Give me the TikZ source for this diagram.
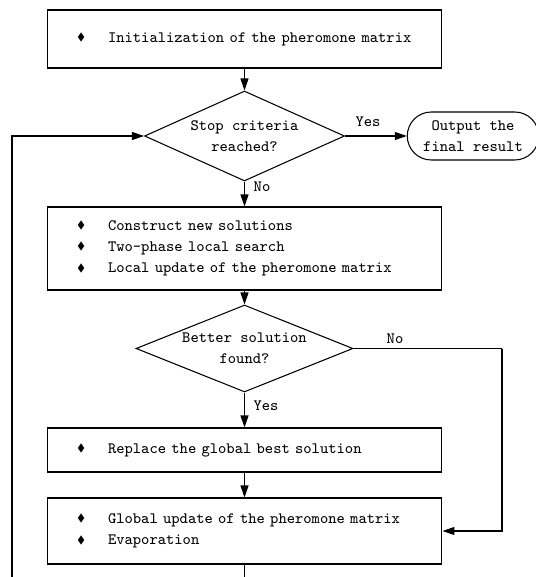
\documentclass[tikz,border=0pt]{standalone}
\usepackage{amssymb}
\usetikzlibrary{shapes.geometric}
\usetikzlibrary{shapes.misc}
\usetikzlibrary{arrows.meta}

\newcommand{\itm}{\makebox[0.62cm][l]{\raisebox{0.25ex}{$\scriptstyle\blacklozenge$}}}

\begin{document}
\begin{tikzpicture}[x=0.02cm,y=-0.02cm,
  font=\fontsize{9}{12}\selectfont\ttfamily,
  >={Triangle[length=0.24cm,width=0.16cm]},
  line width=0.6pt,
  box/.style={draw,rectangle,text width=6.7cm,inner xsep=0.6cm,align=left},
  cond/.style={draw,diamond,inner sep=0pt,align=center},
  term/.style={draw,rounded rectangle,minimum width=2.7cm,minimum height=0.96cm,inner sep=1pt,align=center}]
  \useasboundingbox (0,0) rectangle (536,577);

  % process boxes
  \node[box,minimum height=1.16cm] (init) at (244.5,39) {\itm Initialization of the pheromone matrix};
  \node[cond,aspect=2.2,minimum width=4cm,minimum height=1.8cm] (stop) at (244.5,136) {Stop criteria\\reached?};
  \node[term] (out) at (473,136) {Output the\\final result};
  \node[box,minimum height=1.66cm] (build) at (244.5,248.5)
    {\itm Construct new solutions\\\itm Two-phase local search\\\itm Local update of the pheromone matrix};
  \node[cond,aspect=2.5,minimum width=4.34cm,minimum height=1.74cm] (better) at (244.5,348.5) {Better solution\\found?};
  \node[box,minimum height=0.88cm] (repl) at (244.5,450) {\itm Replace the global best solution};
  \node[box,minimum height=1.32cm] (glob) at (244.5,531)
    {\itm Global update of the pheromone matrix\\\itm Evaporation};

  % corners of the two loops
  \coordinate (side) at (502,348.5);
  \coordinate (back) at (12,620);

  % connectors
  \draw[->] (init) -- (stop);
  \draw[->] (stop) -- (out);
  \draw[->] (stop) -- (build);
  \draw[->] (build) -- (better);
  \draw[->] (better) -- (repl);
  \draw[->] (repl) -- (glob);
  \draw (better.east) -- (side);
  \draw[->] (side) |- (glob.east);
  \draw (glob.south) |- (back);
  \draw[->] (back) |- (stop.west);

  % branch labels
  \node (yes1) at (368,122) {Yes};
  \node (no1) at (262,187) {No};
  \node (no2) at (395,339) {No};
  \node (yes2) at (266,406) {Yes};
\end{tikzpicture}
\end{document}
